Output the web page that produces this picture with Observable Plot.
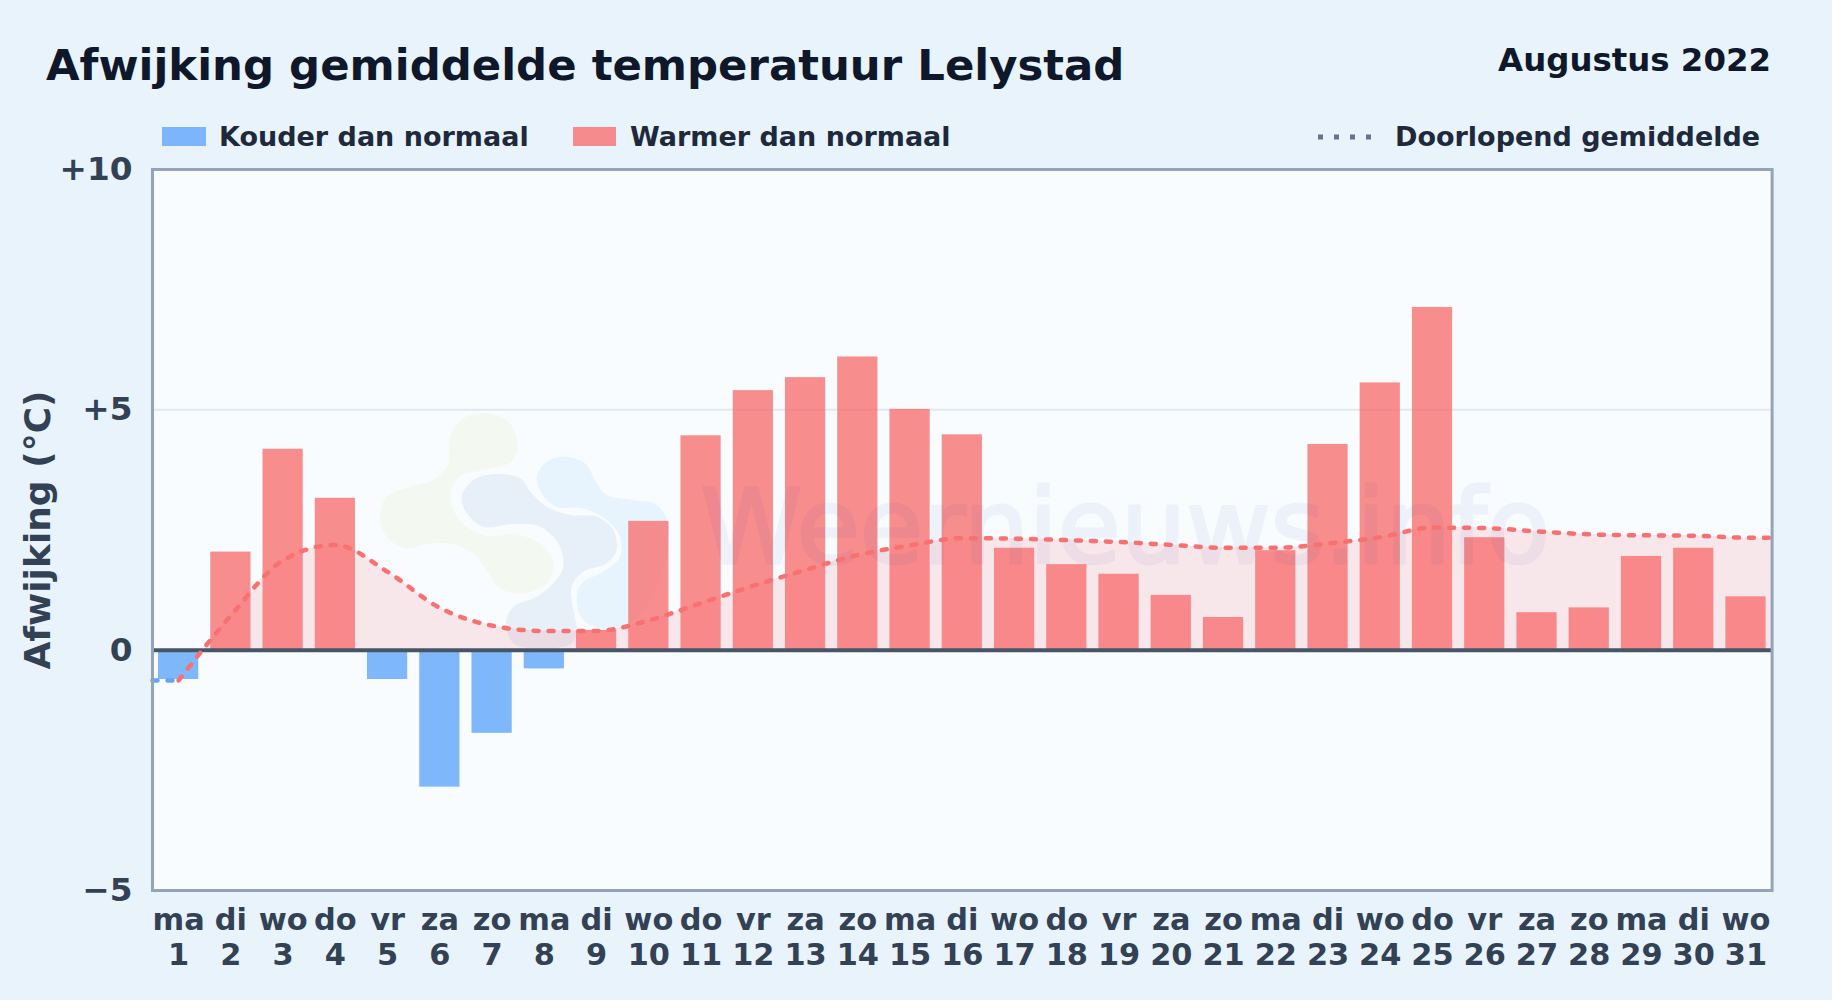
<!DOCTYPE html>
<html lang="nl">
<head>
<meta charset="utf-8">
<script src="https://cdn.jsdelivr.net/npm/d3@7"></script>
<script src="https://cdn.jsdelivr.net/npm/@observablehq/plot@0.6"></script>
<style>
html,body{margin:0;padding:0;background:#e8f3fc;}
body{width:1832px;height:1000px;overflow:hidden;font-family:"DejaVu Sans",sans-serif;font-weight:700;}
#page{position:relative;width:1832px;height:1000px;}
#head{position:relative;height:150px;}
#head>*{position:absolute;white-space:nowrap;}
#title{left:46px;top:37.5px;font-size:43.4px;line-height:54px;color:#0f172a;}
#month{right:61px;top:40px;font-size:32.4px;line-height:40px;color:#0f172a;}
.leg{top:119px;font-size:27px;line-height:36px;color:#1e293b;}
.sw{top:127px;height:19px;}
#chart svg{display:block;}
</style>
</head>
<body>
<div id="page">
  <div id="head">
    <div id="title">Afwijking gemiddelde temperatuur Lelystad</div>
    <div id="month">Augustus 2022</div>
    <div class="sw" style="left:162px;width:44px;background:rgba(96,165,250,.8)"></div>
    <div class="leg" style="left:219px">Kouder dan normaal</div>
    <div class="sw" style="left:573px;width:43px;background:rgba(248,113,113,.8)"></div>
    <div class="leg" style="left:630px">Warmer dan normaal</div>
    <svg style="left:1318px;top:134px" width="60" height="6"><line x1="0" x2="60" y1="3" y2="3" stroke="#64748b" stroke-width="5" stroke-dasharray="5 11"/></svg>
    <div class="leg" style="left:1395px">Doorlopend gemiddelde</div>
  </div>
  <div id="chart"></div>
</div>
<script>
const days = d3.range(1, 32);
const weekdays = ["ma","di","wo","do","vr","za","zo","ma","di","wo","do","vr","za","zo","ma","di","wo","do","vr","za","zo","ma","di","wo","do","vr","za","zo","ma","di","wo"];
const deviation = [-0.61,2.04,4.18,3.16,-0.61,-2.85,-1.73,-0.39,0.41,2.68,4.46,5.40,5.67,6.10,5.01,4.48,2.12,1.78,1.58,1.14,0.68,2.07,4.28,5.56,7.13,2.34,0.78,0.88,1.95,2.12,1.11];
const runningMean = [-0.63,0.72,1.87,2.19,1.63,0.88,0.51,0.40,0.40,0.62,0.98,1.34,1.67,1.98,2.18,2.33,2.32,2.29,2.25,2.19,2.13,2.13,2.22,2.35,2.55,2.54,2.47,2.41,2.39,2.38,2.34];
const yTicks = [-5,0,5,10];
const xDomain = [0.5,31.5];
const barHalf = 0.385;

const bars = days.map((d,i)=>({d,v:deviation[i]}));
const meanPts = days.map((d,i)=>({d,v:runningMean[i]}));
const redLine = [...meanPts,{d:xDomain[1],v:runningMean[30]}];
const blueLine = [{d:xDomain[0],v:runningMean[0]},meanPts[0]];
const areaPts = [{d:1.45,v:0},...redLine.slice(1)];

const curve = "monotone-x";
const fmtY = v => v>0 ? "+"+v : v<0 ? "\u2212"+Math.abs(v) : "0";

// decorative watermark logo: three blob outlines, not chart data
const blobGreen = [[300,170],[345,112],[410,100],[475,125],[503,190],[485,245],[410,268],[335,285],[303,330],[310,390],[350,440],[410,468],[490,462],[570,490],[610,550],[590,610],[520,640],[450,625],[410,570],[370,520],[310,493],[240,490],[170,505],[110,470],[90,410],[110,350],[180,320],[250,300],[295,250]];
const blobGrey = [[335,350],[370,300],[440,282],[510,295],[545,340],[590,380],[660,405],[740,410],[790,450],[800,510],[770,550],[700,575],[665,620],[670,690],[680,740],[665,790],[560,805],[490,790],[468,730],[490,680],[560,650],[610,610],[640,560],[625,490],[570,440],[490,432],[400,440],[350,400]];
const blobBlue = [[560,290],[590,245],[650,230],[705,250],[735,300],[770,345],[850,360],[920,375],[955,430],[950,520],[920,620],[860,715],[760,745],[700,720],[680,660],[695,610],[760,575],[810,530],[810,470],[770,420],[700,385],[620,380],[575,340]];
function logo(){
  const g = d3.create("svg:g").attr("transform","translate(350,230) scale(0.3333)");
  const path = d3.line().curve(d3.curveCatmullRomClosed);
  for (const [pts,c] of [[blobBlue,"#e7f3fd"],[blobGreen,"#f3f8f0"],[blobGrey,"#e7eff8"]])
    g.append("path").attr("d",path(pts)).attr("fill",c);
  return g.node();
}

const chart = Plot.plot({
  width:1832,height:850,
  marginLeft:152,marginRight:60.4,marginTop:19,marginBottom:110,
  style:{background:"transparent",fontFamily:"'DejaVu Sans',sans-serif",fontWeight:700,overflow:"visible"},
  x:{domain:xDomain,axis:null},
  y:{domain:[-5,10],axis:null},
  marks:[
    Plot.frame({fill:"#f8fcff",stroke:null}),
    logo,
    Plot.ruleY([5],{stroke:"#e2e8f0",strokeWidth:2}),
    Plot.areaY(areaPts,{x:"d",y1:0,y2:"v",curve,fill:"rgb(248,113,113)",fillOpacity:0.15}),
    Plot.rectY(bars,{x1:d=>d.d-barHalf,x2:d=>d.d+barHalf,y1:0,y2:"v",fill:d=>d.v<0?"rgb(96,165,250)":"rgb(248,113,113)",fillOpacity:0.8}),
    Plot.text(["Weernieuws.info"],{frameAnchor:"middle",dx:163,dy:0,fontSize:103,fill:"#1e40af",stroke:"#1e40af",strokeWidth:3,opacity:0.05,fontWeight:400}),
    Plot.ruleY([0],{stroke:"#475569",strokeWidth:4}),
    Plot.line(blueLine,{x:"d",y:"v",stroke:"#60a5fa",strokeWidth:4.5,strokeLinecap:"round",strokeDasharray:"5 10"}),
    Plot.line(redLine,{x:"d",y:"v",curve,stroke:"#f87171",strokeWidth:4.5,strokeLinecap:"round",strokeDasharray:"5 10"}),
    Plot.frame({stroke:"#94a3b8",strokeWidth:3,fill:"none"}),
    Plot.axisY({ticks:yTicks,tickFormat:fmtY,tickSize:0,tickPadding:20,fontSize:32.7,color:"#334155",label:null}),
    Plot.axisX({ticks:days,tickFormat:d=>weekdays[d-1]+"\n"+d,tickSize:0,tickPadding:15,fontSize:30.4,lineHeight:1.15,color:"#334155",label:null}),
    Plot.text(["Afwijking (\u00b0C)"],{frameAnchor:"left",dx:-114,rotate:-90,textAnchor:"middle",fontSize:36,fill:"#334155"})
  ]
});
document.getElementById("chart").appendChild(chart);
</script>
</body>
</html>
